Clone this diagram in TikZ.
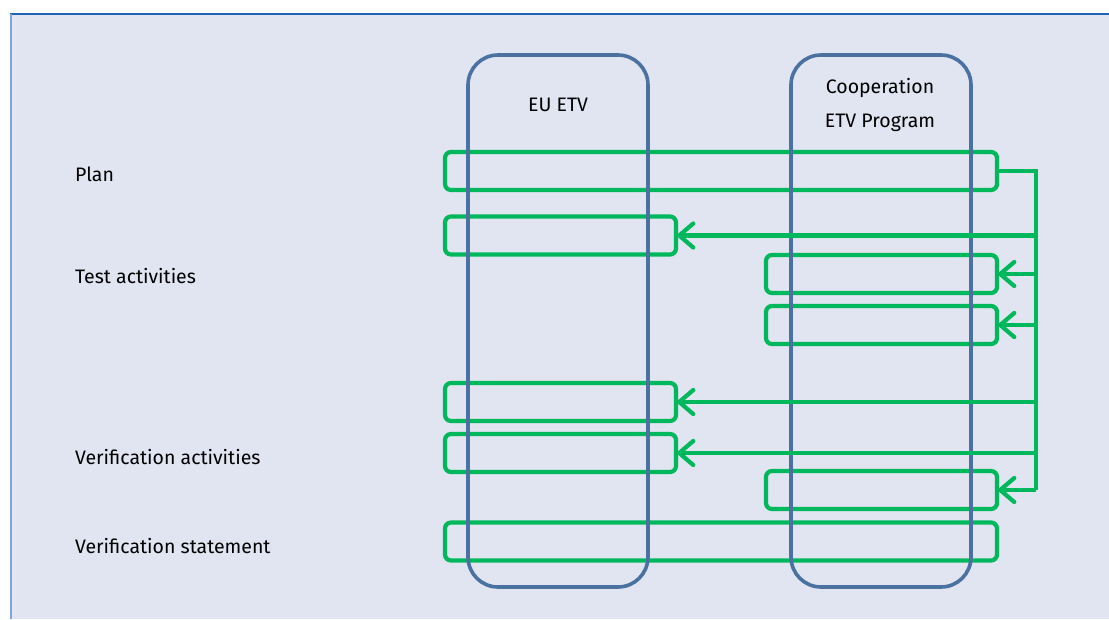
\documentclass[tikz,border=0pt]{standalone}
\usepackage{fontspec}
\setmainfont{Fira Sans}
\usetikzlibrary{arrows.meta}
\definecolor{bgc}{HTML}{E1E4F1}
\definecolor{lanec}{HTML}{4A71A0}
\definecolor{grc}{HTML}{00B85C}
\definecolor{topc}{HTML}{1F63B5}
\definecolor{leftc}{HTML}{7FA4D6}
\begin{document}
\begin{tikzpicture}[x=1pt,y=-1pt,
  lane/.style={draw=lanec,line width=3.6pt,rounded corners=30pt,minimum width=180pt,minimum height=532pt,inner sep=0pt,outer sep=0pt},
  gbox/.style={draw=grc,line width=4.2pt,rounded corners=6pt,minimum height=38pt,inner sep=0pt,outer sep=0pt},
  wide/.style={gbox,minimum width=552pt},
  short/.style={gbox,minimum width=231pt},
  lbl/.style={font=\fontsize{19.5}{22}\selectfont,anchor=west,inner sep=0pt},
  ttl/.style={font=\fontsize{19.5}{34}\selectfont,align=center,inner sep=0pt},
  conn/.style={draw=grc,line width=4.2pt},
  arr/.style={conn,-{Straight Barb[length=14pt,width=24pt,line width=4.2pt,line cap=round]}}]
\useasboundingbox (0,0) rectangle (1109,619);
\fill[white] (0,0) rectangle (1109,619);
\fill[bgc] (10,14) rectangle (1109,619);
\draw[topc,line width=1.5pt] (10,14) -- (1109,14);
\draw[leftc,line width=2pt] (11,14) -- (11,619);
% green boxes
\node[wide]  (plan) at (721,171) {};
\node[short] (eut)  at (560.5,235.5) {};
\node[short] (ct1)  at (881.5,274) {};
\node[short] (ct2)  at (881.5,325) {};
\node[short] (euv1) at (560.5,402) {};
\node[short] (euv2) at (560.5,453) {};
\node[short] (cv)   at (881.5,490) {};
\node[wide]  (stm)  at (721,541.5) {};
% lanes
\node[lane] (eu) at (558,321) {};
\node[lane] (coop) at (881,321) {};
\node[ttl] (eut1) at (558,105) {EU ETV};
\node[ttl] (coopt) at (880,105) {Cooperation\\ETV Program};
% labels
\node[lbl] (l1) at (75,174) {Plan};
\node[lbl] (l2) at (75,276) {Test activities};
\node[lbl] (l3) at (75,457) {Verification activities};
\node[lbl] (l4) at (75,546) {Verification statement};
% connector
\coordinate (ttop) at (1036,171);
\coordinate (tbot) at (1036,490);
\draw[conn,line join=miter] (plan.east) -- (ttop) -- (tbot);
\draw[arr] (1036,235.5) -- (eut.east);
\draw[arr] (1036,274) -- (ct1.east);
\draw[arr] (1036,325) -- (ct2.east);
\draw[arr] (1036,402) -- (euv1.east);
\draw[arr] (1036,453) -- (euv2.east);
\draw[arr] (tbot) -- (cv.east);
\end{tikzpicture}
\end{document}
